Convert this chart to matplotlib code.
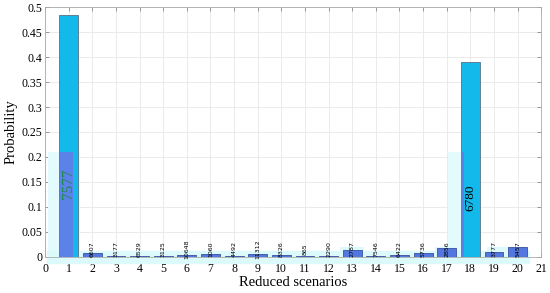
"""Probability of the reduced scenarios."""

import matplotlib
matplotlib.use("Agg")
import matplotlib.pyplot as plt

plt.rcParams['font.family'] = ['Liberation Serif', 'DejaVu Serif']

scenarios = list(range(1, 21))
probabilities = [0.484, 0.007, 0.002, 0.001, 0.001, 0.003, 0.006, 0.002, 0.005, 0.003,
                 0.001, 0.002, 0.014, 0.001, 0.003, 0.007, 0.017, 0.390, 0.010, 0.019]
labels = ['7577', '6607', '3177', '6529', '3125', '10648', '1060', '4492', '11312', '8326',
          '865', '2290', '2787', '7546', '6422', '5736', '2856', '6780', '3777', '5457']

# faint boxes left behind around some bars in the original figure
shade_x = [0.8, 17.35]
shade_w = [1.35, 0.57]
shade_h = [0.21, 0.21]
band_left, band_right = 0.1, 20.5
band_low, band_high = -0.012, 0.012
box_x = [13, 17, 19.5]
box_h = [0.02, 0.02, 0.02]
box_w = [1.0, 1.0, 1.6]

fig = plt.figure(figsize=(5.5, 2.93), dpi=100)
ax = fig.add_axes([0.082, 0.123, 0.902, 0.853])

ax.set_axisbelow(True)
ax.grid(True, color='#e8e8e8', linewidth=0.6)

ax.bar(shade_x, shade_h, width=shade_w, color='#e4fbfd', zorder=1)
ax.fill_between([band_left, band_right], band_low, band_high, color='#dcfafc', zorder=1,
                clip_on=False)
ax.bar(box_x, box_h, width=box_w, color='#dcfafc', zorder=1)

big = [p > 0.1 for p in probabilities]
colors = ['#12b9ea' if b else '#5277de' for b in big]
edges = ['#5a7088' if b else '#3a4fa0' for b in big]
ax.bar(scenarios, probabilities, width=0.8, color=colors, edgecolor=edges,
       linewidth=0.6, zorder=2)

# purple tint over the lower part of the two large bars
tint_x = [0.9, 17.67]
tint_w = [0.53, 0.13]
ax.bar(tint_x, [0.21, 0.21], width=tint_w, color='#6f74e8', alpha=0.8, zorder=3)

for x, p, lab in zip(scenarios, probabilities, labels):
    if x == 1:
        ax.text(x, 0.146, lab, rotation=90, ha='center', va='center',
                fontsize=11, color='#1a8a48', zorder=4)
    elif x == 18:
        ax.text(x, 0.118, lab, rotation=90, ha='center', va='center',
                fontsize=9.5, color='black', zorder=4)
    else:
        ax.text(x, 0.016, lab, rotation=90, ha='center', va='center',
                fontsize=4.5, color='black', family='DejaVu Sans', zorder=4)

ax.set_xlim(0, 21)
ax.set_ylim(0, 0.5)
ax.set_xticks(range(0, 22))
ax.set_yticks([i * 0.05 for i in range(11)])
ax.set_yticklabels(['0', '0.05', '0.1', '0.15', '0.2', '0.25', '0.3', '0.35', '0.4', '0.45', '0.5'])
ax.tick_params(direction='in', top=True, right=True, labelsize=8.5, length=3,
               color='#777777', width=0.5)
ax.tick_params(axis='x', pad=4)
ax.tick_params(axis='y', pad=2)
for s in ax.spines.values():
    s.set_color('#aaaaaa')
    s.set_linewidth(0.6)

ax.set_xlabel("Reduced scenarios", fontsize=10.5, labelpad=1)
ax.set_ylabel("Probability", fontsize=10.5, labelpad=3)

fig.savefig("out.png", dpi=100)
